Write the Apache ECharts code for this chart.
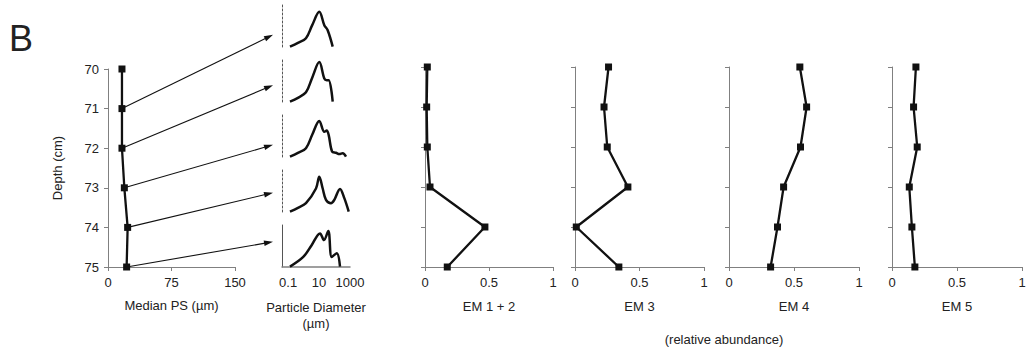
<!DOCTYPE html>
<html>
<head>
<meta charset="utf-8">
<script src="https://cdn.jsdelivr.net/npm/echarts@6/dist/echarts.min.js"></script>
<style>
html,body{margin:0;padding:0;background:#fff;}
#chart{width:1029px;height:351px;}
</style>
</head>
<body>
<div id="chart"></div>
<script>
// ---------- data ----------
const depths = [70, 71, 72, 73, 74, 75];
const medianPS = [16.5, 16.5, 16.5, 19.3, 23.2, 22];
const em12 = [0.018, 0.013, 0.018, 0.039, 0.468, 0.174];
const em3 = [0.26, 0.225, 0.25, 0.41, 0.01, 0.34];
const em4 = [0.545, 0.597, 0.55, 0.42, 0.373, 0.32];
const em5 = [0.184, 0.166, 0.194, 0.133, 0.153, 0.176];

// particle size distributions: [diameter (µm), volume %]
const psd1 = [[0.131,0.1],[0.43,1.0],[1.42,2.1],[3.6,5.2],[10.3,8.4],[21.8,5.2],[36,4.0],[76,0.1]];
const psd2 = [[0.131,0.1],[0.43,1.0],[1.42,2.3],[3.6,5.8],[10.3,9.5],[21.8,5.6],[31,5.2],[42,5.2],[76,0.1]];
const psd3 = [[0.131,0.1],[0.43,1.0],[1.42,2.1],[3.6,5.3],[10.3,8.6],[21.8,6.0],[31,6.3],[42,5.2],[69,1.3],[124,1.0],[204,0.7],[338,0.9],[552,0.1]];
const psd4 = [[0.131,0.1],[0.43,1.0],[1.42,2.1],[6.3,5.6],[10.3,8.4],[17.1,5.6],[28,2.9],[59,2.1],[97,2.9],[226,5.5],[429,3.3],[826,0.1]];
const psd5 = [[0.131,0.1],[0.95,2.4],[3.3,5.2],[11.5,8.0],[20.8,6.4],[39.5,8.6],[66,2.4],[138,3.3],[226,0.1]];
const psds = [psd1, psd2, psd3, psd4, psd5];

// arrow targets: level (vol %) on each distribution panel's axis
const arrowLevels = [2.9, 4.0, 2.9, 4.6, 6.0];

const psTicks = [0, 75, 150];
const diamTicks = [0.1, 10, 1000];
const emTicks = [0, 0.5, 1];
const emNames = ['EM 1 + 2', 'EM 3', 'EM 4', 'EM 5'];
const emData = [em12, em3, em4, em5];

// ---------- styles / layout ----------
const FONT = "'Liberation Sans', Arial, sans-serif";
const TXT = '#222';
const AX = '#808080';
const FS = 13;
const miniTops = [5, 60, 115, 170, 225];
const emLefts = [425, 575, 729, 892];
const emWidths = [128, 129, 130, 130];
const diamMin = 0.04, diamMax = 1000;

const grids = [{left: 108, top: 69, width: 127, height: 198}];
miniTops.forEach(t => grids.push({left: 282, top: t, width: 68, height: 42}));
emLefts.forEach((l, i) => grids.push({left: l, top: 67, width: emWidths[i], height: 200}));

const labelStyle = {color: TXT, fontSize: FS, fontFamily: FONT};
const nameStyle = {color: TXT, fontSize: FS, fontFamily: FONT};

const xAxes = [], yAxes = [], series = [];

// panel 1
xAxes.push({
  type: 'value', gridIndex: 0, min: psTicks[0], max: psTicks[psTicks.length-1], interval: 75,
  axisLine: {show: true, lineStyle: {color: AX, width: 1}},
  axisTick: {show: true, inside: false, length: 4, lineStyle: {color: AX}},
  axisLabel: Object.assign({margin: 9}, labelStyle),
  splitLine: {show: false},
  name: 'Median PS (µm)', nameLocation: 'middle', nameGap: 32, nameTextStyle: nameStyle
});
yAxes.push({
  type: 'value', gridIndex: 0, min: depths[0], max: depths[depths.length-1], interval: 1, inverse: true,
  axisLine: {show: true, lineStyle: {color: AX, width: 1}},
  axisTick: {show: true, inside: false, length: 4, lineStyle: {color: AX}},
  axisLabel: Object.assign({margin: 9}, labelStyle),
  splitLine: {show: false},
  name: 'Depth (cm)', nameLocation: 'middle', nameGap: 44, nameRotate: 90, nameTextStyle: nameStyle
});
series.push({
  type: 'line', xAxisIndex: 0, yAxisIndex: 0,
  data: depths.map((d, i) => [medianPS[i], d]),
  symbol: 'rect', symbolSize: 7, showSymbol: true,
  lineStyle: {color: '#111', width: 2.3}, itemStyle: {color: '#111'},
  silent: true, animation: false
});

// distribution mini panels
psds.forEach((p, k) => {
  const last = k === psds.length - 1;
  xAxes.push({
    type: 'log', logBase: 10, gridIndex: k + 1, min: diamMin, max: diamMax,
    axisLine: {show: last, onZero: false, lineStyle: {color: AX, width: 1.5}},
    axisTick: {show: false},
    axisLabel: Object.assign({show: last, margin: 9, customValues: diamTicks,
      formatter: v => String(v)}, labelStyle),
    splitLine: {show: false},
    name: last ? 'Particle Diameter\n(µm)' : '', nameLocation: 'middle', nameGap: 32,
    nameTextStyle: Object.assign({lineHeight: 16}, nameStyle)
  });
  yAxes.push({
    type: 'value', gridIndex: k + 1, min: 0, max: 10,
    axisLine: {show: true, onZero: false, lineStyle: {color: '#555', width: 1, type: last ? 'solid' : [2, 2]}},
    axisTick: {show: false}, axisLabel: {show: false}, splitLine: {show: false}
  });
  series.push({
    type: 'line', xAxisIndex: k + 1, yAxisIndex: k + 1, data: p,
    smooth: 0.35, showSymbol: false, symbol: 'none',
    lineStyle: {color: '#111', width: 2.5}, silent: true, animation: false
  });
});

// EM panels
emData.forEach((vals, j) => {
  const gi = 6 + j;
  xAxes.push({
    type: 'value', gridIndex: gi, min: emTicks[0], max: emTicks[emTicks.length-1], interval: 0.5,
    axisLine: {show: true, lineStyle: {color: AX, width: 1}},
    axisTick: {show: true, inside: false, length: 4, lineStyle: {color: AX}},
    axisLabel: Object.assign({margin: 9, formatter: v => String(v)}, labelStyle),
    splitLine: {show: false},
    name: emNames[j], nameLocation: 'middle', nameGap: 33, nameTextStyle: nameStyle
  });
  yAxes.push({
    type: 'value', gridIndex: gi, min: depths[0], max: depths[depths.length-1], interval: 1, inverse: true,
    axisLine: {show: true, lineStyle: {color: AX, width: 1}},
    axisTick: {show: true, inside: false, length: 4, lineStyle: {color: AX}},
    axisLabel: {show: false}, splitLine: {show: false}
  });
  series.push({
    type: 'line', xAxisIndex: gi, yAxisIndex: gi,
    data: depths.map((d, i) => [vals[i], d]),
    symbol: 'rect', symbolSize: 7, showSymbol: true,
    lineStyle: {color: '#111', width: 2.3}, itemStyle: {color: '#111'},
    silent: true, animation: false
  });
});

const chart = echarts.init(document.getElementById('chart'), null, {renderer: 'svg'});
chart.setOption({
  animation: false,
  backgroundColor: '#fff',
  textStyle: {fontFamily: FONT},
  title: [
    {text: 'B', left: 4, top: 15, textStyle: {fontSize: 36, fontWeight: 'normal', color: TXT, fontFamily: FONT}},
    {text: '(relative abundance)', left: 719, top: 328, textAlign: 'center',
     textStyle: {fontSize: FS, fontWeight: 'normal', color: TXT, fontFamily: FONT}}
  ],
  grid: grids, xAxis: xAxes, yAxis: yAxes, series: series
});

// arrows from median PS points (depths 71..75) to distribution panels
const TIP_GAP = 9, HEAD_LEN = 9, HEAD_HALF = 2.8;
const graphics = [];
arrowLevels.forEach((lvl, k) => {
  const s = chart.convertToPixel({xAxisIndex: 0, yAxisIndex: 0}, [medianPS[k + 1], depths[k + 1]]);
  const e = chart.convertToPixel({xAxisIndex: k + 1, yAxisIndex: k + 1}, [diamMin, lvl]);
  const ex = e[0] - TIP_GAP, ey = e[1];
  const dx = ex - s[0], dy = ey - s[1];
  const len = Math.sqrt(dx * dx + dy * dy);
  const ux = dx / len, uy = dy / len;
  const bx = ex - ux * HEAD_LEN, by = ey - uy * HEAD_LEN;
  graphics.push({type: 'line', silent: true, shape: {x1: s[0], y1: s[1], x2: bx + ux, y2: by + uy},
    style: {stroke: '#111', lineWidth: 1.1}});
  graphics.push({type: 'polygon', silent: true, shape: {points: [
    [ex, ey], [bx - uy * HEAD_HALF, by + ux * HEAD_HALF], [bx + uy * HEAD_HALF, by - ux * HEAD_HALF]]},
    style: {fill: '#111'}});
});
chart.setOption({graphic: graphics});
</script>
</body>
</html>
